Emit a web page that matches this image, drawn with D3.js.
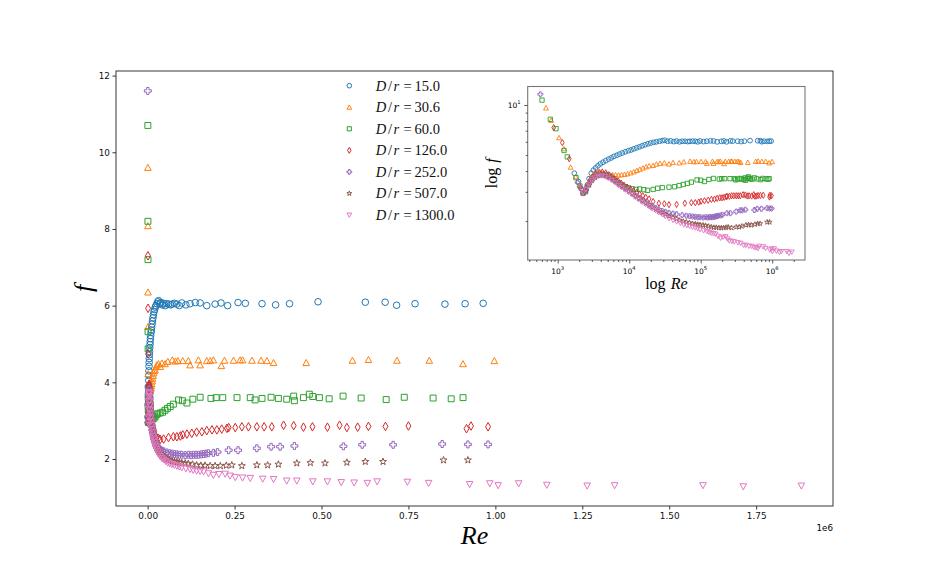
<!DOCTYPE html>
<html><head><meta charset="utf-8">
<script src="https://cdn.jsdelivr.net/npm/d3@7"></script>
<style>body{margin:0;background:#fff} svg{display:block}</style>
</head><body>
<svg id="c" width="926" height="579"></svg>
<script>
// ---------------- data ----------------
const seriesLabels = ["15.0","30.6","60.0","126.0","252.0","507.0","1300.0"];
const seriesMarkers = ["o","^","s","d","P","*","v"];
const seriesColors = ["#1f77b4","#ff7f0e","#2ca02c","#d62728","#9467bd","#8c564b","#e377c2"];
const xTickValues = [0,0.25e6,0.5e6,0.75e6,1.0e6,1.25e6,1.5e6,1.75e6];
const yTickValues = [2,4,6,8,10,12];
const insetXTickValues = [1e3,1e4,1e5,1e6];
const insetYTickValues = [10];

// [Re, f]
const d15 = [[1706,3.88],[1950,3.45],[2150,3.12],[2300,2.95],[2450,3.05],[2600,3.3],[2750,3.6],[2950,3.88],[3150,4.05],[3400,4.18],[3650,4.3],[3950,4.42],[4300,4.52],[4700,4.62],[5150,4.72],[5600,4.8],[6100,4.9],[6700,4.98],[7300,5.06],[8000,5.14],[8800,5.22],[9700,5.3],[10600,5.36],[11600,5.44],[12700,5.52],[13900,5.6],[15200,5.68],[16700,5.76],[18300,5.84],[20000,5.9],[22000,5.96],[24000,6.0],[26500,6.05],[29000,6.1],[31500,6.13],[34500,6.05],[38000,6.08],[42000,6.02],[46000,6.06],[50500,6.0],[55000,6.05],[60500,6.04],[66000,6.02],[70500,6.04],[77000,6.06],[84000,6.04],[91000,6.0],[98000,6.07],[110000,6.02],[122000,6.05],[137000,6.08],[151000,6.07],[170000,6.0],[194000,6.04],[211000,6.07],[230000,6.0],[260000,6.08],[281000,6.06],[329000,6.05],[368000,6.02],[408000,6.05],[490000,6.1],[626000,6.09],[683000,6.09],[716000,6.01],[769000,6.05],[855000,6.04],[913000,6.05],[965000,6.06]];
const d30 = [[685,9.6],[810,8.08],[1043,6.35],[1220,5.45],[1515,4.22],[1780,3.7],[2020,3.3],[2250,2.97],[2480,3.12],[2720,3.45],[2980,3.72],[3280,3.88],[3600,3.95],[3950,3.92],[4350,3.88],[4800,3.84],[5300,3.82],[5850,3.8],[6450,3.79],[7100,3.78],[7800,3.8],[8600,3.82],[9500,3.85],[10500,3.9],[11600,3.96],[12800,4.03],[14100,4.1],[15600,4.17],[17200,4.24],[19000,4.3],[21600,4.32],[24000,4.4],[27000,4.45],[31000,4.48],[36000,4.41],[41000,4.5],[50000,4.48],[58000,4.54],[71000,4.58],[80000,4.55],[87000,4.56],[101000,4.56],[117000,4.56],[122000,4.45],[146000,4.58],[151000,4.45],[170000,4.56],[180000,4.56],[189000,4.58],[212000,4.43],[221000,4.57],[247000,4.57],[266000,4.58],[273000,4.58],[300000,4.57],[326000,4.57],[343000,4.56],[362000,4.51],[456000,4.51],[589000,4.57],[635000,4.59],[717000,4.57],[810000,4.57],[907000,4.48],[997000,4.56]];
const d60 = [[603,10.7],[788,8.2],[946,7.2],[1225,5.32],[1361,4.87],[1803,3.65],[2050,3.25],[2260,2.95],[2450,3.0],[2700,3.3],[3000,3.55],[3300,3.7],[3700,3.8],[4200,3.83],[4700,3.8],[5200,3.72],[5800,3.62],[6400,3.5],[7100,3.4],[7900,3.3],[8800,3.22],[9800,3.17],[11000,3.13],[12500,3.1],[14000,3.12],[16000,3.09],[18000,3.06],[21600,3.1],[25000,3.15],[29000,3.18],[36000,3.2],[43000,3.22],[50000,3.27],[57000,3.32],[65000,3.37],[74000,3.43],[89000,3.54],[100000,3.52],[113000,3.46],[130000,3.56],[151000,3.61],[182000,3.58],[197000,3.6],[216000,3.6],[257000,3.6],[295000,3.6],[309000,3.54],[329000,3.58],[355000,3.61],[376000,3.58],[400000,3.56],[420000,3.64],[422000,3.52],[448000,3.6],[465000,3.69],[475000,3.63],[494000,3.6],[522000,3.57],[562000,3.64],[614000,3.59],[686000,3.55],[738000,3.61],[821000,3.59],[873000,3.57],[907000,3.6]];
const d126 = [[879,7.3],[1160,5.93],[1453,4.74],[2071,3.18],[2260,2.95],[2500,3.2],[2800,3.5],[3100,3.7],[3400,3.85],[3800,3.92],[4200,3.95],[4700,3.9],[5200,3.8],[5700,3.7],[6300,3.58],[7000,3.48],[7700,3.38],[8500,3.28],[9400,3.2],[10400,3.12],[11500,3.05],[12700,2.97],[14000,2.9],[15500,2.84],[17000,2.78],[19000,2.72],[21600,2.62],[26000,2.56],[31000,2.54],[36000,2.51],[46000,2.52],[60000,2.56],[74000,2.58],[84000,2.58],[94000,2.6],[101000,2.63],[113000,2.65],[127000,2.67],[141000,2.7],[156000,2.71],[170000,2.74],[185000,2.76],[199000,2.76],[213000,2.78],[228000,2.8],[233000,2.82],[252000,2.82],[271000,2.84],[290000,2.84],[314000,2.84],[335000,2.84],[357000,2.84],[391000,2.88],[420000,2.87],[448000,2.83],[474000,2.84],[517000,2.83],[552000,2.88],[573000,2.82],[604000,2.83],[635000,2.85],[684000,2.85],[750000,2.86],[917000,2.79],[930000,2.86],[979000,2.84]];
const d252 = [[571,11.6],[1905,3.41],[2150,3.1],[2300,2.95],[2500,3.1],[2750,3.35],[3000,3.55],[3300,3.7],[3700,3.8],[4100,3.82],[4600,3.78],[5100,3.7],[5700,3.6],[6400,3.46],[7100,3.36],[7900,3.25],[8800,3.15],[9800,3.05],[11000,2.95],[12200,2.85],[13600,2.76],[15200,2.68],[17000,2.6],[19000,2.52],[21000,2.46],[23500,2.4],[26000,2.35],[29000,2.3],[32000,2.27],[36000,2.24],[41000,2.22],[46000,2.2],[55000,2.17],[63000,2.15],[70000,2.14],[77000,2.13],[84000,2.12],[91000,2.11],[98000,2.11],[108000,2.1],[117000,2.11],[125000,2.1],[132000,2.11],[139000,2.11],[146000,2.11],[154000,2.12],[161000,2.13],[168000,2.14],[175000,2.15],[189000,2.16],[201000,2.18],[233000,2.23],[260000,2.23],[314000,2.28],[355000,2.32],[381000,2.32],[422000,2.34],[563000,2.33],[617000,2.37],[706000,2.37],[847000,2.39],[921000,2.38],[979000,2.38]];
const d507 = [[2260,2.95],[2500,3.05],[2750,3.3],[3000,3.5],[3300,3.65],[3700,3.75],[4100,3.78],[4600,3.75],[5100,3.68],[5700,3.58],[6400,3.45],[7100,3.33],[7900,3.22],[8800,3.12],[9800,3.02],[11000,2.92],[12200,2.82],[13600,2.73],[15200,2.64],[17000,2.56],[19000,2.48],[21000,2.41],[23500,2.35],[26000,2.29],[29000,2.24],[32000,2.19],[36000,2.14],[41000,2.1],[46000,2.06],[51000,2.02],[57000,1.99],[63000,1.97],[70000,1.95],[77000,1.93],[84000,1.92],[91000,1.91],[98000,1.9],[108000,1.89],[117000,1.88],[129000,1.86],[141000,1.84],[153000,1.83],[165000,1.83],[180000,1.82],[194000,1.82],[209000,1.82],[226000,1.83],[242000,1.84],[271000,1.82],[314000,1.84],[345000,1.84],[376000,1.86],[429000,1.89],[468000,1.9],[510000,1.89],[573000,1.91],[626000,1.93],[677000,1.93],[851000,1.97],[921000,1.97]];
const d1300 = [[2260,2.95],[2480,3.1],[2720,3.3],[3000,3.5],[3300,3.64],[3700,3.72],[4100,3.74],[4600,3.7],[5100,3.62],[5700,3.52],[6400,3.4],[7100,3.28],[7900,3.18],[8800,3.08],[9800,2.98],[11000,2.88],[12200,2.78],[13600,2.69],[15200,2.6],[17000,2.52],[19000,2.44],[21000,2.37],[23500,2.31],[26000,2.25],[29000,2.19],[32000,2.13],[36000,2.07],[41000,2.02],[46000,1.98],[52000,1.94],[58000,1.9],[64000,1.88],[70000,1.86],[77000,1.84],[84000,1.82],[91000,1.8],[98000,1.78],[110000,1.75],[122000,1.73],[131000,1.71],[141000,1.69],[151000,1.68],[161000,1.67],[175000,1.62],[189000,1.58],[205000,1.6],[223000,1.61],[237000,1.56],[252000,1.52],[273000,1.51],[295000,1.5],[331000,1.48],[362000,1.47],[400000,1.43],[429000,1.43],[475000,1.41],[517000,1.41],[557000,1.39],[594000,1.38],[632000,1.37],[660000,1.41],[747000,1.4],[808000,1.37],[926000,1.34],[984000,1.36],[1008000,1.31],[1067000,1.36],[1148000,1.32],[1264000,1.3],[1343000,1.31],[1597000,1.31],[1713000,1.28],[1880000,1.3]];
const allSeries = [d15,d30,d60,d126,d252,d507,d1300];

// ---------------- helpers ----------------
function markerPath(t, r){
  switch(t){
    case "o": return `M${r},0A${r},${r} 0 1,1 ${-r},0A${r},${r} 0 1,1 ${r},0Z`;
    case "^": return `M0,${-r}L${r},${r*0.85}L${-r},${r*0.85}Z`;
    case "v": return `M0,${r}L${r},${-r*0.85}L${-r},${-r*0.85}Z`;
    case "s": { const a=r*0.9; return `M${-a},${-a}H${a}V${a}H${-a}Z`; }
    case "d": { const h=r*1.3, w=r*0.75; return `M0,${-h}L${w},0L0,${h}L${-w},0Z`; }
    case "P": { const a=r*1.05, b=a/3; return `M${-b},${-a}L${b},${-a}L${b},${-b}L${a},${-b}L${a},${b}L${b},${b}L${b},${a}L${-b},${a}L${-b},${b}L${-a},${b}L${-a},${-b}L${-b},${-b}Z`; }
    case "*": { const R=r*1.1, ri=R*0.4; let p=""; for(let i=0;i<10;i++){const ang=-Math.PI/2+i*Math.PI/5; const rr=i%2?ri:R; p+=(i?"L":"M")+(rr*Math.cos(ang)).toFixed(2)+","+(rr*Math.sin(ang)).toFixed(2);} return p+"Z"; }
  }
}

const svg = d3.select("#c");
svg.append("rect").attr("width",926).attr("height",579).attr("fill","#fff");

// ---------------- main axes ----------------
const M = {l:116, r:833, t:71, b:506};
const x = d3.scaleLinear().domain([-0.091e6, 1.971e6]).range([M.l, M.r]);
const y = d3.scaleLinear().domain([0.774, 12.12]).range([M.b, M.t]);

const tickFont = "DejaVu Sans, sans-serif";
const gx = svg.append("g").attr("transform",`translate(0,${M.b})`)
  .call(d3.axisBottom(x).tickValues(xTickValues).tickFormat(d=>(d/1e6).toFixed(2)).tickSize(3.5).tickPadding(3.5));
const gy = svg.append("g").attr("transform",`translate(${M.l},0)`)
  .call(d3.axisLeft(y).tickValues(yTickValues).tickFormat(d=>d).tickSize(3.5).tickPadding(2.5));
[gx,gy].forEach(g=>{
  g.select(".domain").remove();
  g.selectAll(".tick line").attr("stroke","#222").attr("stroke-width",0.9);
  g.selectAll(".tick text").attr("font-family",tickFont).attr("font-size","8.9px").attr("fill","#111");
});
svg.append("rect").attr("x",M.l).attr("y",M.t).attr("width",M.r-M.l).attr("height",M.b-M.t)
  .attr("fill","none").attr("stroke","#222").attr("stroke-width",0.9);

svg.append("text").attr("x",M.r).attr("y",530.5).attr("text-anchor","end")
  .attr("font-family",tickFont).attr("font-size","8.7px").text("1e6");

const mathFont = "Liberation Serif, Times New Roman, serif";
svg.append("text").attr("x",(M.l+M.r)/2).attr("y",543.5).attr("text-anchor","middle")
  .attr("font-family",mathFont).attr("font-style","italic").attr("font-size","26px").text("Re");
svg.append("text").attr("transform",`translate(83,${(M.t+M.b)/2}) rotate(-90)`).attr("text-anchor","middle")
  .attr("dominant-baseline","central")
  .attr("font-family",mathFont).attr("font-style","italic").attr("font-size","26px").text("f");

const gMain = svg.append("g");
allSeries.forEach((s,i)=>{
  gMain.append("g").selectAll("path").data(s).join("path")
    .attr("transform",d=>`translate(${x(d[0]).toFixed(2)},${y(d[1]).toFixed(2)})`)
    .attr("d",markerPath(seriesMarkers[i],3.3))
    .attr("fill","none").attr("stroke",seriesColors[i]).attr("stroke-width",1);
});

// ---------------- legend ----------------
const leg = svg.append("g");
seriesLabels.forEach((lab,i)=>{
  const ly = 85.7 + i*21.55;
  leg.append("path").attr("transform",`translate(349.3,${ly})`).attr("d",markerPath(seriesMarkers[i],2.3))
    .attr("fill","none").attr("stroke",seriesColors[i]).attr("stroke-width",1);
  const t = leg.append("text").attr("y",ly+4.8).attr("font-family",mathFont).attr("font-size","14.5px").attr("fill","#111");
  t.append("tspan").attr("x",375.7).attr("font-style","italic").text("D");
  t.append("tspan").attr("x",388).text("/");
  t.append("tspan").attr("x",393.6).attr("font-style","italic").text("r");
  t.append("tspan").attr("x",403.6).text("=");
  t.append("tspan").attr("x",414.6).text(lab);
});

// ---------------- inset ----------------
const I = {l:527.7, r:805, t:86.5, b:260};
const xi = d3.scaleLog().domain([Math.pow(10,2.58), Math.pow(10,6.459)]).range([I.l, I.r]);
const yi = d3.scaleLog().domain([Math.pow(10,0.0663), Math.pow(10,1.1114)]).range([I.b, I.t]);
svg.append("rect").attr("x",I.l).attr("y",I.t).attr("width",I.r-I.l).attr("height",I.b-I.t).attr("fill","#fff");

const gIn = svg.append("g");
allSeries.forEach((s,i)=>{
  gIn.append("g").selectAll("path").data(s).join("path")
    .attr("transform",d=>`translate(${xi(d[0]).toFixed(2)},${yi(d[1]).toFixed(2)})`)
    .attr("d",markerPath(seriesMarkers[i],2.4))
    .attr("fill","none").attr("stroke",seriesColors[i]).attr("stroke-width",0.9);
});

svg.append("rect").attr("x",I.l).attr("y",I.t).attr("width",I.r-I.l).attr("height",I.b-I.t)
  .attr("fill","none").attr("stroke","#777").attr("stroke-width",1.1);

// inset ticks
const minorX = [];
for(let e=2;e<=6;e++) for(let k=2;k<=9;k++){const v=k*Math.pow(10,e); if(v>xi.domain()[0]&&v<xi.domain()[1]) minorX.push(v);}
const minorY = [];
for(let k=2;k<=9;k++){ if(k>yi.domain()[0]) minorY.push(k); }
const gxi = svg.append("g").attr("transform",`translate(0,${I.b})`)
  .call(d3.axisBottom(xi).tickValues(insetXTickValues).tickFormat("").tickSize(3.5));
const gxim = svg.append("g").attr("transform",`translate(0,${I.b})`)
  .call(d3.axisBottom(xi).tickValues(minorX).tickFormat("").tickSize(2));
const gyi = svg.append("g").attr("transform",`translate(${I.l},0)`)
  .call(d3.axisLeft(yi).tickValues(insetYTickValues).tickFormat("").tickSize(3.5));
const gyim = svg.append("g").attr("transform",`translate(${I.l},0)`)
  .call(d3.axisLeft(yi).tickValues(minorY).tickFormat("").tickSize(2));
[gxi,gxim,gyi,gyim].forEach(g=>{
  g.select(".domain").remove();
  g.selectAll(".tick line").attr("stroke","#333").attr("stroke-width",0.8);
});
insetXTickValues.forEach(v=>{
  const t = svg.append("text").attr("x",xi(v)).attr("y",273.5).attr("text-anchor","middle")
    .attr("font-family",tickFont).attr("font-size","7.5px");
  t.append("tspan").text("10");
  t.append("tspan").attr("dy",-3.2).attr("font-size","5.2px").text(Math.round(Math.log10(v)));
});
insetYTickValues.forEach(v=>{
  const t = svg.append("text").attr("x",520.5).attr("y",yi(v)+2.7).attr("text-anchor","end")
    .attr("font-family",tickFont).attr("font-size","7.5px");
  t.append("tspan").text("10");
  t.append("tspan").attr("dy",-3.2).attr("font-size","5.2px").text(Math.round(Math.log10(v)));
});
const xl = svg.append("text").attr("x",(I.l+I.r)/2).attr("y",289).attr("text-anchor","middle")
  .attr("font-family",mathFont).attr("font-size","16px");
xl.append("tspan").text("log");
xl.append("tspan").attr("dx",5).attr("font-style","italic").text("Re");
const yl = svg.append("text").attr("transform",`translate(497,${(I.t+I.b)/2}) rotate(-90)`).attr("text-anchor","middle")
  .attr("font-family",mathFont).attr("font-size","16px");
yl.append("tspan").text("log");
yl.append("tspan").attr("dx",5).attr("font-style","italic").text("f");
</script>
</body></html>
